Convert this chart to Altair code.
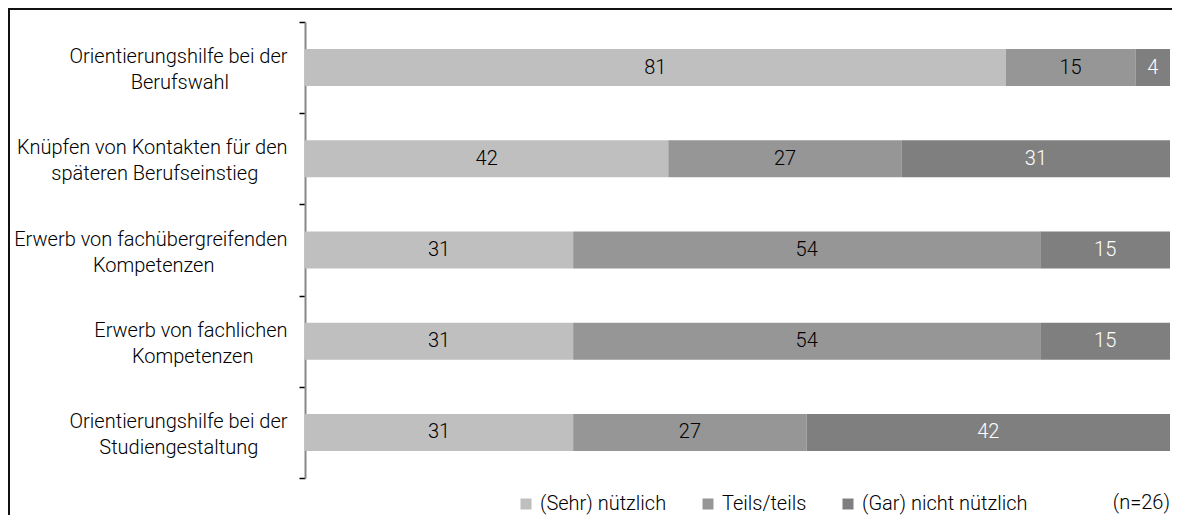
import altair as alt
import pandas as pd

line1 = [
    "Orientierungshilfe bei der",
    "Knüpfen von Kontakten für den",
    "Erwerb von fachübergreifenden",
    "Erwerb von fachlichen",
    "Orientierungshilfe bei der",
]
line2 = [
    "Berufswahl",
    "späteren Berufseinstieg",
    "Kompetenzen",
    "Kompetenzen",
    "Studiengestaltung",
]
series = ["(Sehr) nützlich", "Teils/teils", "(Gar) nicht nützlich"]
sehr = [81, 42, 31, 31, 31]
teils = [15, 27, 54, 54, 27]
gar = [4, 31, 15, 15, 42]
colors = ["#BFBFBF", "#969696", "#7F7F7F"]
note = "(n=26)"

# trailing no-break spaces (closed by a zero-width space so they are not trimmed)
# so that the right-aligned second line sits centred under the first
center_pad = [12, 6, 15, 7, 6]
NBSP = "\u00a0"
ZWSP = "\u200b"
categories = [a + "\n" + b + NBSP * p + ZWSP for a, b, p in zip(line1, line2, center_pad)]

rows = []
for i, c in enumerate(categories):
    for j, (s, vals) in enumerate(zip(series, [sehr, teils, gar])):
        rows.append({"cat": c, "series": s, "order": j, "value": vals[i]})
df = pd.DataFrame(rows)

FONT = "Roboto"
FS = 20
FW = 300

base = alt.Chart(df).transform_stack(
    stack="value", groupby=["cat"], as_=["x0", "x1"],
    sort=[alt.SortField("order", order="ascending")]
).transform_calculate(mid="(datum.x0 + datum.x1) / 2")

yenc = alt.Y("cat:N", sort=categories, title=None,
             scale=alt.Scale(paddingInner=0, paddingOuter=0),
             axis=alt.Axis(labelExpr="split(datum.label, '\\n')",
                           labelAlign="right", labelFont=FONT, labelFontSize=FS,
                           labelFontWeight=FW,
                           labelColor="#000", labelLineHeight=26, labelPadding=12,
                           labelOffset=-11,
                           tickBand="extent", tickSize=6, tickColor="#000", tickWidth=1.5,
                           domainColor="#888", domainWidth=2, labelLimit=400))

bars = base.mark_bar(size=37).encode(
    x=alt.X("x0:Q", scale=alt.Scale(domain=[0, 100]), axis=None),
    x2="x1:Q",
    y=yenc,
    color=alt.Color("series:N", sort=series,
                    scale=alt.Scale(domain=series, range=colors),
                    legend=alt.Legend(title=None, orient="none", direction="horizontal",
                                      legendX=211, legendY=472, symbolType="square",
                                      symbolSize=121, symbolStrokeWidth=0,
                                      labelFont=FONT, labelFontSize=FS, labelFontWeight=FW,
                                      labelColor="#000", labelLimit=400,
                                      labelOffset=4, columnPadding=31)),
)

texts = base.mark_text(font=FONT, fontSize=FS, fontWeight=FW).encode(
    x="mid:Q",
    y=alt.Y("cat:N", sort=categories),
    text="value:Q",
    color=alt.condition(alt.datum.series == "(Gar) nicht nützlich",
                        alt.value("#FFFFFF"), alt.value("#000000")),
)

note_df = pd.DataFrame({"t": [note]})
note_mark = alt.Chart(note_df).mark_text(font=FONT, fontSize=FS, fontWeight=FW, align="right",
                                         baseline="middle", color="#000").encode(
    text="t:N", x=alt.value(865), y=alt.value(481))

# outer frame (top and left edges; the others fall outside the picture)
frame_top = alt.Chart(note_df).mark_rule(color="#111", strokeWidth=2).encode(
    x=alt.value(-296), x2=alt.value(867), y=alt.value(-13))
frame_left = alt.Chart(note_df).mark_rule(color="#111", strokeWidth=2).encode(
    x=alt.value(-296), y=alt.value(-14), y2=alt.value(495))

chart = alt.layer(bars, texts, note_mark, frame_top, frame_left).properties(
    width=865, height=456,
    autosize=alt.AutoSizeParams(type="none"),
    padding={"left": 297, "top": 14, "right": 2, "bottom": 37},
).configure_view(stroke=None)

chart.save("out.html", embed_options={"renderer": "svg", "actions": False})
